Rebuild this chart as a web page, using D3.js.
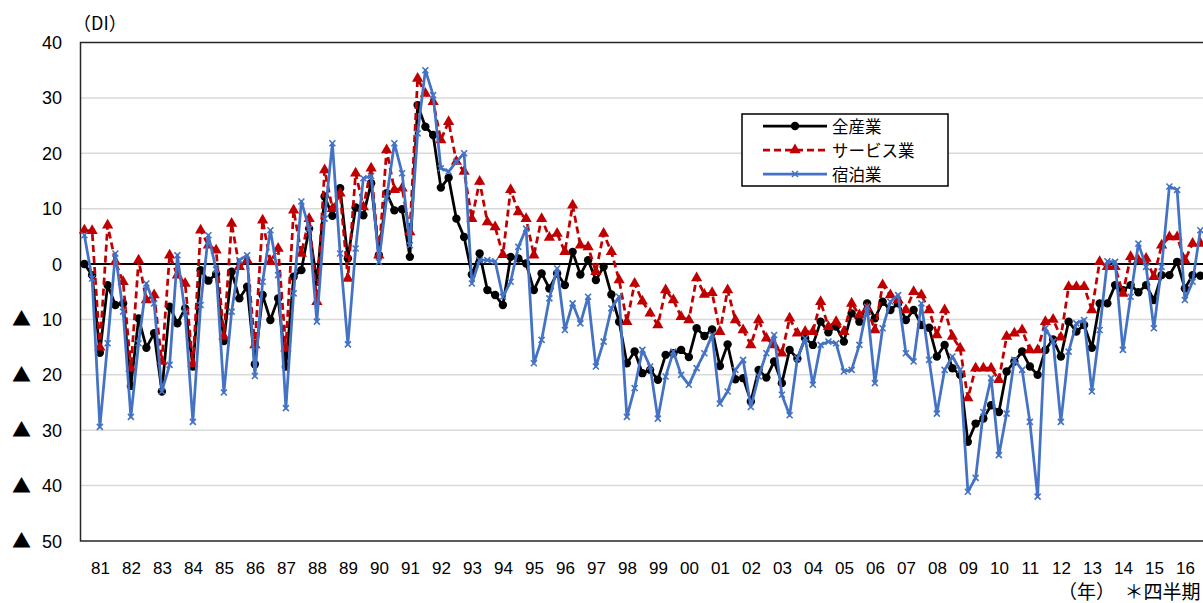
<!DOCTYPE html>
<html>
<head>
<meta charset="utf-8">
<script src="https://cdn.jsdelivr.net/npm/d3@7"></script>
<style>
  body { margin: 0; background: #fff; }
  text { font-family: "Liberation Sans", "Noto Sans CJK JP", sans-serif; fill: #000; }
  .jp { font-family: "Noto Sans CJK JP", sans-serif; }
</style>
</head>
<body>
<svg id="chart" width="1203" height="603"></svg>
<script>
// year labels on the category axis (one label per 4 quarters)
var years = ['81','82','83','84','85','86','87','88','89','90','91','92','93','94','95','96','97','98',
  '99','00','01','02','03','04','05','06','07','08','09','10','11','12','13','14','15','16'];

var yTicks = [40, 30, 20, 10, 0, -10, -20, -30, -40, -50];

var seriesNames = ['全産業', 'サービス業', '宿泊業'];

// quarterly DI values
var allIndustry = [0, -2, -16, -3.8, -7.4, -7.1, -22, -9.8, -15.1, -12.5, -23, -7.7, -10.7, -8, -18.5, -1.1, -3, -1.8,
  -13.9, -1.4, -6.2, -4.1, -18.1, -5.6, -10.1, -6.2, -18.5, -2.3, -1.1, 6.4, -3.2, 12.2, 8.7, 13.7, 1.0, 10.2,
  8.8, 14.6, 1.6, 12.8, 9.7, 9.9, 1.3, 28.7, 24.8, 23.3, 13.8, 15.6, 8.2, 4.9, -1.9, 1.9, -4.7, -5.6,
  -7.4, 1.3, 1.0, 0.1, -4.7, -1.7, -4.4, -1.7, -3.8, 2.2, -1.9, 0.7, -2.9, -0.5, -5.5, -10.4, -17.9, -15.8,
  -19.7, -19.1, -20.9, -16.4, -16.1, -15.5, -16.8, -11.6, -13.0, -11.8, -18.4, -14.5, -20.8, -20.6, -24.8, -19.1, -20.5, -17.6,
  -21.5, -15.5, -17.1, -13.4, -14.6, -10.4, -12.3, -11.3, -14.0, -8.9, -10.4, -7.1, -9.8, -6.8, -8.3, -7.1, -10.1, -8.3,
  -11.0, -11.5, -16.7, -14.6, -18.8, -20.0, -32.1, -28.8, -27.9, -25.5, -26.7, -19.4, -17.6, -15.8, -18.5, -20.0, -15.5, -13.6,
  -16.7, -10.4, -12.2, -11.0, -15.1, -7.1, -7.1, -3.8, -4.7, -3.8, -5.1, -3.8, -6.5, -2.0, -2.0, 0.4, -4.4, -2.0, -2.1];

var services = [6.1, 6.0, -15, 7.0, 0.4, -3.2, -18.8, 0.7, -6.5, -5.6, -17.6, 1.6, -2, -3.5, -18, 6.1, 3.4, 2.5,
  -13.1, 7.3, -0.5, 0.7, -14.6, 7.9, 0.4, 2.8, -15.2, 9.7, 1.9, 8.2, -6.8, 17.0, 10.0, 12.8, -2.6, 16.4,
  10.3, 17.3, 1.6, 20.6, 13.4, 13.7, 5.8, 33.5, 30.8, 29.3, 22.4, 25.7, 18.5, 16.7, 8.2, 14.9, 7.6, 6.7,
  1.7, 13.4, 9.4, 8.2, 1.6, 8.2, 4.8, 5.5, 2.2, 10.6, 3.4, 3.1, -1.4, 5.5, 2.2, -2.9, -10.4, -3.5,
  -6.7, -8.9, -11.0, -4.7, -6.5, -9.5, -10.1, -2.5, -5.5, -5.2, -12.2, -4.7, -10.1, -11.9, -14.6, -10.1, -13.4, -14.6,
  -16.1, -9.8, -12.5, -12.2, -12.2, -6.8, -11.3, -10.4, -12.2, -7.1, -9.2, -8.0, -11.9, -3.8, -5.6, -6.5, -8.3, -5.0,
  -5.6, -8.3, -12.8, -8.3, -13.1, -15.2, -24.2, -18.8, -18.8, -18.8, -20.9, -13.1, -12.5, -11.9, -15.5, -15.5, -10.4, -10.0,
  -13.2, -4.1, -4.1, -4.1, -8.3, 0.4, -0.5, -0.5, -5.3, 1.3, 0.7, 1.0, -2.3, 3.4, 4.9, 4.9, 0.7, 3.7, 3.7];

var lodging = [5.2, -2.6, -29.4, -14.3, 1.9, -8.6, -27.6, -14.3, -3.5, -7.1, -23, -18.2, 1.6, -8.9, -28.5, -7.4, 5.2, -1.0,
  -23.2, -8.6, 0.7, 1.6, -20.2, -3.2, 6.1, -2, -26, -5.3, 11.3, 6.4, -10.4, 8.2, 21.8, 1.9, -14.5, 2.8,
  15.5, 15.9, 0.4, 11.9, 21.8, 16.4, 3.4, 23.6, 35.0, 30.5, 17.3, 16.7, 18.5, 20.0, -3.5, 0.7, 0.7, 0.5,
  -5.9, -3.2, 3.1, 6.4, -17.9, -13.7, -6.2, -0.8, -11.9, -7.1, -10.7, -5.9, -18.5, -14.0, -8.0, -5.9, -27.6, -22.4,
  -15.5, -18.5, -27.9, -20.3, -15.8, -20.0, -21.8, -18.8, -16.1, -12.8, -25.2, -23.0, -19.1, -17.3, -25.8, -20.3, -16.1, -12.8,
  -23.6, -27.3, -17.0, -13.4, -21.8, -14.6, -14.0, -14.3, -19.4, -19.1, -14.6, -7.7, -21.5, -11.6, -6.8, -5.6, -16.1, -17.6,
  -7.1, -17.3, -27.0, -19.1, -16.7, -19.1, -41.1, -38.6, -26.7, -20.6, -34.5, -27.0, -17.3, -19.1, -28.5, -42.0, -11.6, -14.0,
  -28.5, -15.8, -10.7, -10.1, -23.0, -11.9, 0.5, 0.4, -15.5, -5.9, 3.7, -0.5, -11.6, -0.5, 14.0, 13.4, -6.5, -3.2, 6.1];

var svg = d3.select('#chart');

var plot = {l: 80.5, t: 42.5, b: 541, w: 7.75};
var nCats = 146;
plot.r = plot.l + nCats * plot.w;

var x = d3.scaleLinear().domain([-0.5, nCats - 0.5]).range([plot.l, plot.r]);
var y = d3.scaleLinear().domain([-50, 40]).range([plot.b, plot.t]);

// gridlines
svg.append('g').selectAll('line')
  .data(yTicks.filter(function(d) { return d !== 0 && d !== 40 && d !== -50; }))
  .enter().append('line')
  .attr('x1', plot.l).attr('x2', plot.r)
  .attr('y1', function(d) { return y(d); }).attr('y2', function(d) { return y(d); })
  .attr('stroke', '#d9d9d9').attr('stroke-width', 1.5);

// plot frame
svg.append('rect')
  .attr('x', plot.l).attr('y', plot.t)
  .attr('width', plot.r - plot.l).attr('height', plot.b - plot.t)
  .attr('fill', 'none').attr('stroke', '#262626').attr('stroke-width', 1.5);

// zero line
svg.append('line')
  .attr('x1', plot.l).attr('x2', plot.r)
  .attr('y1', y(0)).attr('y2', y(0))
  .attr('stroke', '#000').attr('stroke-width', 2);

// y axis labels: number right aligned, ▲ (negative) set at the far left
var yLabG = svg.append('g');
yLabG.selectAll('text.num')
  .data(yTicks).enter().append('text')
  .attr('class', 'num')
  .attr('x', 62).attr('y', function(d) { return y(d) + 6.5; })
  .attr('text-anchor', 'end')
  .style('font-size', '18px')
  .text(function(d) { return Math.abs(d); });
yLabG.selectAll('text.neg')
  .data(yTicks.filter(function(d) { return d < 0; })).enter().append('text')
  .attr('class', 'neg jp')
  .attr('x', 12).attr('y', function(d) { return y(d) + 7; })
  .style('font-size', '19px')
  .text('▲');

// x axis labels: one per year
var xAxis = d3.axisBottom(x)
  .tickValues(years.map(function(d, i) { return 2 + i * 4; }))
  .tickSize(0).tickPadding(21)
  .tickFormat(function(d, i) { return years[i]; });
var xG = svg.append('g').attr('transform', 'translate(0,' + plot.b + ')').call(xAxis);
xG.select('.domain').remove();
xG.selectAll('text').style('font-size', '17px')
  .style('font-family', '"Liberation Sans", sans-serif').attr('fill', '#000');

svg.append('text').attr('class', 'jp')
  .attr('x', 73).attr('y', 30)
  .style('font-size', '18px').text('（DI）');

svg.append('text').attr('class', 'jp')
  .attr('x', 1058).attr('y', 599)
  .style('font-size', '19px').text('（年）　＊四半期');

var line = d3.line()
  .x(function(d, i) { return x(i); })
  .y(function(d) { return y(d); });

var series = [
  {name: seriesNames[0], values: allIndustry, color: '#000000', dash: null, marker: 'circle'},
  {name: seriesNames[1], values: services, color: '#c00000', dash: '7,4', marker: 'triangle'},
  {name: seriesNames[2], values: lodging, color: '#4472c4', dash: null, marker: 'x'}
];

function drawMarker(g, type, color) {
  if (type === 'circle') {
    g.append('circle').attr('r', 4.2).attr('fill', color);
  } else if (type === 'triangle') {
    g.append('path').attr('d', d3.symbol().type(d3.symbolTriangle).size(55)).attr('fill', color);
  } else {
    g.append('path').attr('d', 'M-3,-3L3,3M-3,3L3,-3')
      .attr('stroke', color).attr('stroke-width', 1.6).attr('fill', 'none');
  }
}

series.forEach(function(s) {
  svg.append('path')
    .datum(s.values)
    .attr('d', line)
    .attr('fill', 'none')
    .attr('stroke', s.color)
    .attr('stroke-width', 2.75)
    .attr('stroke-dasharray', s.dash)
    .attr('stroke-linejoin', 'round');

  s.values.forEach(function(v, i) {
    var g = svg.append('g').attr('transform', 'translate(' + [x(i), y(v)] + ')');
    drawMarker(g, s.marker, s.color);
  });
});

// legend
var legend = svg.append('g');
legend.append('rect')
  .attr('x', 742).attr('y', 114).attr('width', 206).attr('height', 72)
  .attr('fill', '#fff').attr('stroke', '#000').attr('stroke-width', 1.5);

series.forEach(function(s, i) {
  var ly = 126 + i * 24;
  legend.append('line')
    .attr('x1', 763).attr('x2', 827).attr('y1', ly).attr('y2', ly)
    .attr('stroke', s.color).attr('stroke-width', 2.75)
    .attr('stroke-dasharray', s.dash);
  var g = legend.append('g').attr('transform', 'translate(' + [795, ly] + ')');
  drawMarker(g, s.marker, s.color);
  legend.append('text').attr('class', 'jp')
    .attr('x', 832).attr('y', ly + 6.5)
    .style('font-size', '16.5px').text(s.name);
});
</script>
</body>
</html>
